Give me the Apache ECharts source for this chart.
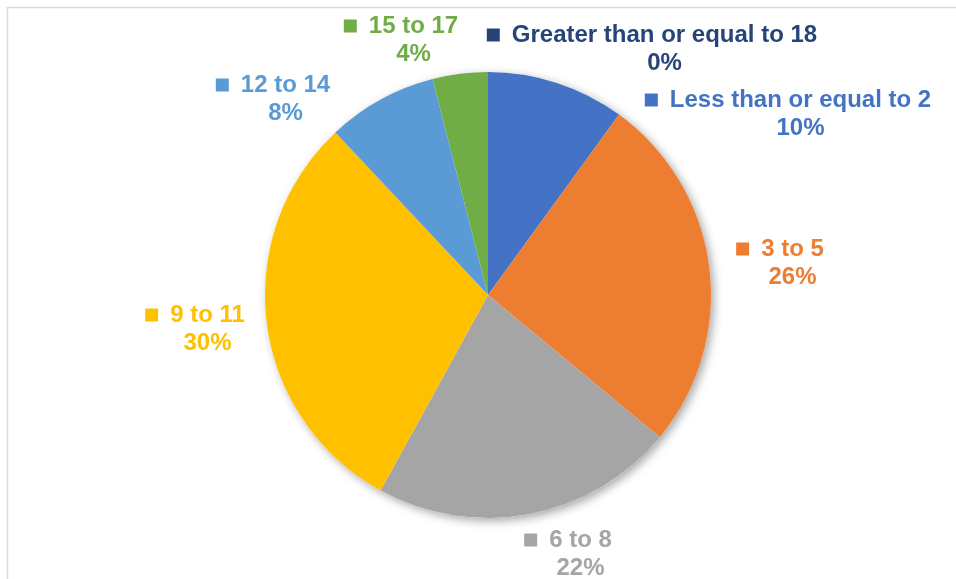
<!DOCTYPE html>
<html>
<head>
<meta charset="utf-8">
<script src="https://cdn.jsdelivr.net/npm/echarts@6/dist/echarts.min.js"></script>
<style>
  html, body { margin: 0; padding: 0; background: #fff; }
  #chart-container { width: 956px; height: 579px; }
</style>
</head>
<body>
<div id="chart-container"></div>
<script>
// age groups and their share (percent), clockwise from 12 o'clock
var categories = ['Less than or equal to 2', '3 to 5', '6 to 8', '9 to 11', '12 to 14', '15 to 17', 'Greater than or equal to 18'];
var shares = [10, 26, 22, 30, 8, 4, 0];

var colors = ['#4472C4', '#ED7D31', '#A5A5A5', '#FFC000', '#5B9BD5', '#70AD47', '#264478'];
// where Excel put each label block (centre of the block)
var labelSpots = [[788, 114], [780, 263], [568, 554], [195, 329], [273, 99], [401, 40], [652, 49]];

var dom = document.getElementById('chart-container');
var myChart = echarts.init(dom, null, { renderer: 'canvas' });

var font = '"Liberation Sans", Arial, sans-serif';

function labelFor(color) {
  return {
    color: color,
    rich: {
      m: { width: 13, height: 13, backgroundColor: color, verticalAlign: 'middle' },
      n: { color: color, fontSize: 24, fontWeight: 'bold', fontFamily: font, padding: [0, 0, 0, 12], lineHeight: 28 },
      s: { width: 25, height: 1 },
      p: { color: color, fontSize: 24, fontWeight: 'bold', fontFamily: font, lineHeight: 28 }
    }
  };
}

var pieData = categories.map(function (name, i) {
  return {
    name: name,
    value: shares[i],
    itemStyle: { color: colors[i] },
    label: labelFor(colors[i])
  };
});

var center = [488, 295];
var radius = 223;

var option = {
  animation: false,
  graphic: [{
    type: 'rect',
    shape: { x: 7.5, y: 7.5, width: 1000, height: 1000 },
    style: { fill: 'none', stroke: '#d9d9d9', lineWidth: 1.5 },
    silent: true,
    z: -10
  }],
  series: [
    {
      // soft shadow beneath the pie
      type: 'pie',
      center: center,
      radius: radius,
      silent: true,
      label: { show: false },
      labelLine: { show: false },
      data: [{ value: 1 }],
      itemStyle: {
        color: '#ffffff',
        shadowBlur: 10,
        shadowOffsetX: 3,
        shadowOffsetY: 3,
        shadowColor: 'rgba(0,0,0,0.35)'
      },
      z: 1
    },
    {
      type: 'pie',
      center: center,
      radius: radius,
      startAngle: 90,
      clockwise: true,
      z: 2,
      itemStyle: { borderWidth: 0 },
      label: {
        show: true,
        position: 'outside',
        align: 'center',
        formatter: function (p) {
          return '{m|}{n|' + p.name + '}\n{s|}{p|' + p.value + '%}';
        }
      },
      labelLine: { show: false },
      labelLayout: function (params) {
        var spot = labelSpots[params.dataIndex];
        return { x: spot[0], y: spot[1], align: 'center', verticalAlign: 'middle' };
      },
      data: pieData
    }
  ]
};

myChart.setOption(option);
window.addEventListener('resize', myChart.resize);
</script>
</body>
</html>
